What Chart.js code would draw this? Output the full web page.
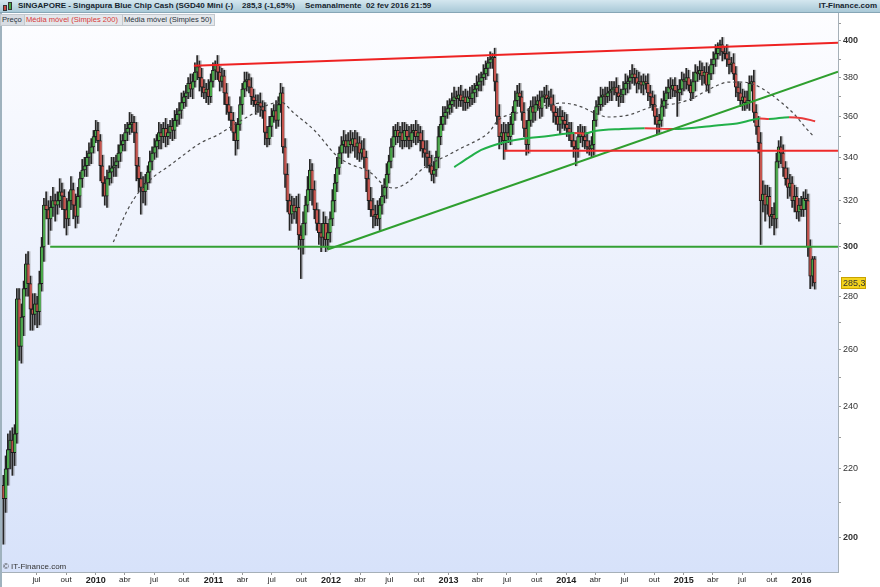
<!DOCTYPE html>
<html lang="pt">
<head>
<meta charset="utf-8">
<title>SINGAPORE - Singapura Blue Chip Cash</title>
<script src="https://cdn.jsdelivr.net/npm/chart.js@4.4.1/dist/chart.umd.min.js"></script>
<style>
  html, body { margin: 0; padding: 0; background: #fff; }
  #wrap { position: relative; width: 880px; height: 587px; overflow: hidden; font-family: "Liberation Sans", Arial, sans-serif; }
  #chart { position: absolute; left: 0; top: 0; }
  .hdr { position: absolute; left: 0; top: 0; width: 880px; height: 12px; background: linear-gradient(#d4e7ef, #a9c9d7); border-bottom: 1px solid #86a6b6; }
  .hdr span { position: absolute; top: 0; line-height: 12px; font-size: 8px; font-weight: bold; color: #17252f; white-space: pre; }
  .ico { position: absolute; border: 1px solid #333; }
  .leg { position: absolute; top: 14px; height: 10px; line-height: 10px; font-size: 7.6px; padding: 0 1px; background: #e4e7eb; border: 1px solid #c3c8ce; white-space: pre; color: #2a3440; }
  .copy { position: absolute; left: 3px; top: 562px; font-size: 8px; color: #333; }
</style>
</head>
<body>
<div id="wrap">
  <canvas id="chart" width="880" height="587"></canvas>
  <div class="hdr">
    <div class="ico" style="left:3px;top:5px;width:2px;height:4px;background:#c84a44"></div>
    <div class="ico" style="left:8px;top:2px;width:2px;height:6px;background:#45a845"></div>
    <span style="left:18px">SINGAPORE - Singapura Blue Chip Cash (SGD40 Mini (-)</span>
    <span style="left:242px">285,3 (-1,65%)</span>
    <span style="left:305px">Semanalmente  02 fev 2016 21:59</span>
    <span style="right:3px">IT-Finance.com</span>
  </div>
  <div class="leg" style="left:0;width:21px;background:#d8dce2">Preço</div>
  <div class="leg" style="left:24px;width:95px;color:#d83a3a">Média móvel (Simples 200)</div>
  <div class="leg" style="left:122px;width:89px">Média móvel (Simples 50)</div>
  <div class="copy">© IT-Finance.com</div>
</div>
<script>
// weekly bars, first one on 20 mar 2009
const startYear = 2009.2135;
const weekLen = 7 / 365.25;
const firstOpen = 215;

const close2009 = [211, 220, 226, 229, 225, 231, 279, 261, 272, 283,
  293, 285, 275, 273, 277, 274, 285, 300, 318, 316,
  312, 317, 320, 318, 320, 324, 322, 316, 312, 320,
  325, 318, 313, 322, 330, 334, 336, 340, 342, 345,
  350];
const close2010 = [353, 348, 336, 328, 322, 330, 333, 335, 336, 338,
  342, 346, 348, 352, 354, 356, 357, 352, 336, 330,
  326, 324, 328, 333, 338, 342, 345, 348, 352, 350,
  354, 350, 352, 355, 353, 358, 361, 363, 367, 370,
  372, 377, 374, 378, 383, 386, 380, 375, 372, 374,
  370, 378];
const close2011 = [384, 387, 383, 378, 381, 372, 366, 362, 358, 352,
  348, 356, 366, 374, 378, 379, 375, 370, 368, 366,
  367, 365, 363, 352, 349, 355, 360, 363, 358, 366,
  372, 345, 332, 320, 314, 318, 315, 317, 305, 303,
  310, 318, 325, 334, 325, 316, 310, 306, 304, 310,
  303, 306];
const close2012 = [312, 320, 328, 335, 342, 346, 348, 345, 348, 346,
  349, 345, 347, 342, 344, 340, 330, 320, 316, 313,
  314, 312, 318, 322, 326, 332, 338, 345, 350, 353,
  350, 352, 348, 353, 350, 348, 352, 353, 350, 352,
  348, 344, 342, 340, 336, 332, 334, 340, 350, 356,
  360, 362, 364];
const close2013 = [366, 368, 370, 369, 371, 368, 370, 367, 370, 369,
  372, 374, 376, 378, 380, 382, 385, 388, 390, 391,
  378, 360, 350, 352, 348, 352, 350, 356, 362, 368,
  372, 370, 362, 354, 346, 358, 365, 362, 366, 368,
  364, 370, 371, 369, 370, 366, 362, 360, 356, 360,
  358, 356, 354];
const close2014 = [352, 348, 345, 344, 350, 352, 350, 348, 345, 344,
  346, 358, 365, 366, 370, 371, 370, 372, 373, 374,
  375, 372, 370, 371, 374, 377, 378, 380, 382, 380,
  377, 378, 376, 378, 377, 372, 370, 366, 360, 356,
  358, 365, 368, 372, 375, 374, 376, 373, 372, 374,
  379, 378, 380];
const close2015 = [376, 372, 378, 383, 382, 384, 381, 383, 376, 382,
  387, 390, 393, 396, 398, 394, 393, 390, 387, 388,
  382, 375, 372, 368, 370, 367, 368, 377, 378, 362,
  355, 347, 320, 323, 318, 322, 313, 314, 312, 338,
  345, 342, 335, 330, 326, 328, 320, 322, 315, 318,
  316];
const close2016 = [321, 320, 300, 288, 295, 285.3];

// upper / lower shadow length of each bar, in index points
const wickUp2009 = [3, 4, 5, 3, 4, 3, 4, 4, 5, 3,
  4, 5, 3, 6, 4, 3, 5, 4, 3, 6,
  4, 5, 6, 3, 4, 6, 4, 3, 5, 4,
  6, 3, 5, 4, 3, 5, 4, 3, 5, 4,
  3];
const wickDn2009 = [13, 4, 5, 6, 7, 4, 3, 5, 6, 7,
  3, 5, 8, 6, 4, 6, 5, 3, 6, 4,
  11, 5, 4, 7, 4, 3, 6, 8, 7, 3,
  4, 6, 5, 3, 5, 4, 3, 5, 4, 5,
  3];
const wickUp2010 = [5, 4, 3, 5, 3, 4, 3, 5, 4, 3,
  4, 5, 3, 4, 3, 6, 4, 3, 5, 4,
  3, 5, 4, 3, 5, 3, 4, 3, 5, 4,
  3, 5, 4, 3, 4, 5, 3, 4, 5, 3,
  4, 3, 5, 4, 5, 6, 3, 5, 4, 3,
  5, 4];
const wickDn2010 = [3, 5, 7, 6, 4, 5, 3, 5, 4, 5,
  3, 4, 3, 5, 4, 3, 4, 5, 7, 6,
  12, 5, 6, 3, 5, 4, 3, 5, 4, 6,
  3, 5, 4, 3, 5, 4, 3, 5, 4, 3,
  5, 3, 4, 5, 3, 4, 7, 5, 3, 5,
  4, 3];
const wickUp2011 = [4, 2, 5, 3, 4, 3, 5, 4, 3, 4,
  5, 3, 4, 3, 5, 4, 3, 5, 4, 3,
  4, 5, 3, 4, 3, 5, 4, 3, 5, 4,
  5, 3, 4, 5, 3, 4, 3, 5, 6, 4,
  5, 4, 6, 5, 3, 4, 3, 6, 4, 5,
  3, 4];
const wickDn2011 = [3, 5, 4, 5, 3, 6, 5, 4, 5, 4,
  7, 4, 3, 5, 4, 5, 3, 4, 3, 5,
  4, 5, 4, 6, 4, 3, 5, 3, 4, 3,
  4, 3, 6, 5, 7, 4, 3, 5, 6, 16,
  6, 5, 3, 5, 7, 4, 3, 5, 6, 4,
  5, 4];
const wickUp2012 = [3, 5, 4, 5, 3, 4, 5, 3, 4, 5,
  3, 4, 5, 3, 4, 5, 3, 4, 6, 5,
  4, 6, 3, 5, 4, 5, 3, 4, 5, 3,
  4, 3, 5, 4, 3, 5, 4, 3, 5, 4,
  3, 5, 4, 6, 3, 5, 4, 3, 5, 4,
  5, 3, 4];
const wickDn2012 = [4, 3, 5, 4, 3, 5, 4, 3, 5, 4,
  3, 5, 6, 4, 3, 5, 6, 4, 3, 5,
  4, 3, 5, 4, 3, 5, 4, 3, 5, 4,
  3, 5, 4, 3, 5, 4, 3, 5, 4, 3,
  5, 4, 6, 5, 3, 3, 4, 3, 5, 4,
  3, 4, 3];
const wickUp2013 = [3, 4, 5, 3, 4, 5, 3, 4, 3, 5,
  4, 3, 5, 4, 3, 5, 4, 3, 4, 2,
  5, 4, 6, 4, 5, 4, 5, 4, 3, 5,
  4, 5, 3, 5, 4, 6, 3, 5, 4, 3,
  5, 3, 4, 5, 3, 4, 5, 3, 4, 5,
  3, 4, 5];
const wickDn2013 = [3, 4, 3, 5, 4, 3, 5, 4, 3, 4,
  3, 5, 4, 3, 5, 4, 3, 4, 3, 5,
  5, 4, 6, 4, 9, 5, 3, 4, 5, 4,
  3, 5, 4, 4, 5, 4, 3, 5, 4, 3,
  5, 4, 3, 5, 4, 3, 5, 4, 3, 5,
  4, 3, 4];
const wickUp2014 = [3, 5, 4, 3, 5, 4, 3, 5, 4, 3,
  4, 5, 3, 4, 5, 3, 4, 3, 5, 4,
  3, 5, 4, 3, 4, 5, 3, 4, 5, 3,
  4, 5, 3, 4, 3, 5, 4, 3, 5, 4,
  3, 4, 5, 3, 4, 5, 3, 4, 3, 5,
  4, 3, 5];
const wickDn2014 = [4, 3, 5, 8, 4, 3, 5, 4, 3, 3,
  4, 5, 3, 4, 3, 5, 4, 3, 4, 5,
  3, 4, 5, 3, 4, 3, 5, 4, 3, 4,
  5, 3, 4, 5, 3, 4, 5, 3, 4, 5,
  4, 3, 5, 4, 3, 5, 4, 3, 12, 4,
  3, 5, 4];
const wickUp2015 = [4, 3, 5, 4, 3, 5, 4, 3, 5, 4,
  3, 4, 5, 3, 2.5, 4, 3, 5, 4, 3,
  5, 4, 3, 5, 4, 3, 5, 4, 3, 6,
  4, 5, 5, 6, 4, 5, 4, 3, 5, 4,
  3, 5, 4, 3, 5, 4, 3, 5, 4, 3,
  4];
const wickDn2015 = [3, 4, 3, 5, 4, 3, 5, 4, 3, 4,
  3, 5, 4, 3, 4, 5, 3, 4, 5, 4,
  3, 5, 4, 3, 5, 4, 3, 5, 4, 5,
  4, 5, 19, 5, 7, 4, 5, 4, 7, 4,
  3, 5, 4, 3, 5, 4, 3, 5, 3, 4,
  3];
const wickUp2016 = [3, 4, 3, 3, 1, 1];
const wickDn2016 = [3, 4, 4, 5, 4, 2.5];

// moving averages (decimal year, value)
const sma50X = [2010.149, 2010.269, 2010.379, 2010.490, 2010.610, 2010.746, 2010.891, 2011.036, 2011.172, 2011.317,
  2011.462, 2011.573, 2011.684, 2011.854, 2012.059, 2012.144, 2012.340, 2012.451, 2012.536, 2012.656,
  2012.766, 2012.877, 2012.997, 2013.107, 2013.218, 2013.338, 2013.423, 2013.508, 2013.619, 2013.730,
  2013.849, 2013.960, 2014.130, 2014.241, 2014.360, 2014.531, 2014.702, 2014.813, 2014.958, 2015.094,
  2015.239, 2015.384, 2015.494, 2015.605, 2015.724, 2015.835, 2015.946, 2016.031, 2016.108];
const sma50Y = [302.0, 315.8, 324.8, 330.8, 335.4, 341.1, 346.9, 350.8, 355.7, 360.7,
  365.8, 367.3, 361.7, 353.3, 340.2, 337.3, 332.6, 327.1, 325.7, 328.5,
  334.0, 337.8, 341.1, 344.4, 347.4, 351.8, 358.2, 360.7, 362.2, 364.3,
  365.8, 366.8, 364.8, 361.7, 359.7, 360.7, 364.3, 365.8, 366.8, 369.9,
  374.6, 377.7, 377.7, 376.2, 372.0, 366.8, 360.7, 354.7, 349.8];
const sma200X = [2013.048, 2013.167, 2013.278, 2013.448, 2013.619, 2013.849, 2014.071, 2014.156, 2014.241, 2014.471,
  2014.668, 2014.923, 2015.153, 2015.324, 2015.452, 2015.580, 2015.648, 2015.724, 2015.895, 2016.006, 2016.117];
const sma200Y = [335.4, 339.7, 343.5, 346.9, 348.8, 350.3, 351.8, 351.5, 352.7, 353.7,
  354.1, 353.7, 354.7, 355.7, 356.4, 358.2, 359.0, 358.7, 359.6, 359.1, 357.6];

// drawn trend lines
const resistX = [2010.834, 2016.311];
const resistY = [386.4, 399.0];
const riseX = [2011.971, 2016.311];
const riseY = [298.9, 383.2];
const level344X = [2013.471, 2016.311];
const level344Y = [343.1, 343.1];
const level300X = [2009.612, 2016.311];
const level300Y = [300, 300];

const xTickPos = [2009.496, 2009.748, 2010, 2010.247, 2010.496, 2010.748, 2011, 2011.247, 2011.496, 2011.748,
  2012, 2012.247, 2012.496, 2012.748, 2013, 2013.247, 2013.496, 2013.748, 2014, 2014.247,
  2014.496, 2014.748, 2015, 2015.247, 2015.496, 2015.748, 2016];
const xTickText = ['jul', 'out', '2010', 'abr', 'jul', 'out', '2011', 'abr', 'jul', 'out',
  '2012', 'abr', 'jul', 'out', '2013', 'abr', 'jul', 'out', '2014', 'abr',
  'jul', 'out', '2015', 'abr', 'jul', 'out', '2016'];
const yTickValues = [200, 210, 220, 230, 240, 250, 260, 270, 280, 290, 300, 310,
  320, 330, 340, 350, 360, 370, 380, 390, 400, 410];

const xMin = 2009.2024, xMax = 2016.3113;
const yMin = 190.46, yMax = 415.96;
const FONT = '"Liberation Sans", Arial, sans-serif';
const shadowShift = 1.5 / 117.6; // grey shadow drawn 1.5px right of each wick

const closes = [].concat(close2009, close2010, close2011, close2012, close2013, close2014, close2015, close2016);
const wickUp = [].concat(wickUp2009, wickUp2010, wickUp2011, wickUp2012, wickUp2013, wickUp2014, wickUp2015, wickUp2016);
const wickDn = [].concat(wickDn2009, wickDn2010, wickDn2011, wickDn2012, wickDn2013, wickDn2014, wickDn2015, wickDn2016);

const wicks = [], shadows = [], bodies = [], bodyColors = [];
closes.forEach((c, i) => {
  const o = i === 0 ? firstOpen : closes[i - 1];
  const x = startYear + i * weekLen;
  const hi = Math.max(o, c), lo = Math.min(o, c);
  wicks.push({ x: x, y: [lo - wickDn[i], hi + wickUp[i]] });
  shadows.push({ x: x + shadowShift, y: [lo - wickDn[i], hi + wickUp[i]] });
  bodies.push({ x: x, y: hi - lo < 0.6 ? [c - 0.3, c + 0.3] : [lo, hi] });
  bodyColors.push(c >= o ? '#4aa84a' : '#c4544e');
});

const pts = (xs, ys) => xs.map((x, i) => ({ x: x, y: ys[i] }));

const bgPlugin = {
  id: 'bg',
  beforeDraw(chart) {
    const c = chart.ctx, a = chart.chartArea;
    c.save();
    c.fillStyle = '#fff';
    c.fillRect(0, 0, chart.width, chart.height);
    const g = c.createLinearGradient(0, a.top, 0, a.bottom);
    g.addColorStop(0, '#fdfdff');
    g.addColorStop(1, '#d7e2fa');
    c.fillStyle = g;
    c.fillRect(a.left, a.top, a.right - a.left, a.bottom - a.top);
    c.fillStyle = '#9fb2be';
    c.fillRect(0, a.top, 2, chart.height - a.top);
    c.restore();
  }
};

const tagPlugin = {
  id: 'tag',
  afterDraw(chart) {
    const last = closes[closes.length - 1];
    const y = Math.round(chart.scales.y.getPixelForValue(last));
    const x = chart.chartArea.right + 3;
    const c = chart.ctx;
    c.save();
    c.fillStyle = '#f4d41e';
    c.fillRect(x, y - 6, 25, 12);
    c.strokeStyle = '#c8a200';
    c.strokeRect(x + 0.5, y - 5.5, 24, 11);
    c.fillStyle = '#333';
    c.font = '9px ' + FONT;
    c.textBaseline = 'middle';
    c.fillText(String(last).replace('.', ','), x + 2, y + 0.5);
    c.restore();
  }
};

new Chart(document.getElementById('chart'), {
  type: 'bar',
  data: {
    datasets: [
      { type: 'line', data: pts(level300X, level300Y), borderColor: '#34a034', borderWidth: 2, pointRadius: 0, order: 0 },
      { type: 'line', data: pts(level344X, level344Y), borderColor: '#ee2a2a', borderWidth: 2, pointRadius: 0, order: 0 },
      { type: 'line', data: pts(riseX, riseY), borderColor: '#2f9f2f', borderWidth: 2, pointRadius: 0, order: 0 },
      { type: 'line', data: pts(resistX, resistY), borderColor: '#ee2222', borderWidth: 2, pointRadius: 0, order: 0 },
      {
        type: 'line', data: pts(sma200X, sma200Y), borderWidth: 2, pointRadius: 0, cubicInterpolationMode: 'monotone', order: 1,
        borderColor: '#22b04a',
        segment: { borderColor: s => (s.p1.parsed.y < s.p0.parsed.y ? '#e83a3a' : '#22b04a') }
      },
      { type: 'line', data: pts(sma50X, sma50Y), borderColor: '#4a4a4a', borderWidth: 1.2, borderDash: [3, 3], pointRadius: 0, cubicInterpolationMode: 'monotone', order: 2 },
      {
        data: bodies, backgroundColor: bodyColors, borderColor: '#1c1c1c',
        borderWidth: { left: 1, top: 1, bottom: 1, right: 0 }, borderSkipped: false,
        barThickness: 3, grouped: false, order: 5
      },
      { data: wicks, backgroundColor: '#262626', barThickness: 1, grouped: false, order: 6 },
      { data: shadows, backgroundColor: 'rgba(110,110,110,0.45)', barThickness: 1, grouped: false, order: 7 }
    ]
  },
  options: {
    responsive: false,
    animation: false,
    devicePixelRatio: 1,
    layout: { padding: { top: 13, left: 2, right: 0, bottom: 0 } },
    plugins: { legend: { display: false }, tooltip: { enabled: false } },
    scales: {
      x: {
        type: 'linear', min: xMin, max: xMax, offset: false,
        grid: { display: true, drawOnChartArea: false, drawTicks: true, tickLength: 3, color: '#999', offset: false },
        border: { display: true, color: '#a6b0b8' },
        afterBuildTicks: s => { s.ticks = xTickPos.map(v => ({ value: v })); },
        afterFit: s => { s.height = 15; },
        ticks: {
          autoSkip: false, maxRotation: 0, padding: 0, color: '#222',
          callback: (v, i) => xTickText[i],
          font: c => (xTickText[c.index] && xTickText[c.index].length === 4
            ? { family: FONT, size: 9, weight: 'bold' }
            : { family: FONT, size: 8, weight: 'normal' })
        }
      },
      y: {
        type: 'logarithmic', position: 'right', min: yMin, max: yMax,
        grid: { display: true, drawOnChartArea: false, drawTicks: true, tickLength: 3, color: '#999' },
        border: { display: true, color: '#a6b0b8' },
        afterBuildTicks: s => { s.ticks = yTickValues.map(v => ({ value: v })); },
        afterFit: s => { s.width = 42; },
        ticks: {
          autoSkip: false, padding: 2, color: '#333',
          callback: v => (v % 20 === 0 ? String(v) : ''),
          font: c => ({ family: FONT, size: 9, weight: c.tick && c.tick.value % 100 === 0 ? 'bold' : 'normal' })
        }
      }
    }
  },
  plugins: [bgPlugin, tagPlugin]
});
</script>
</body>
</html>
